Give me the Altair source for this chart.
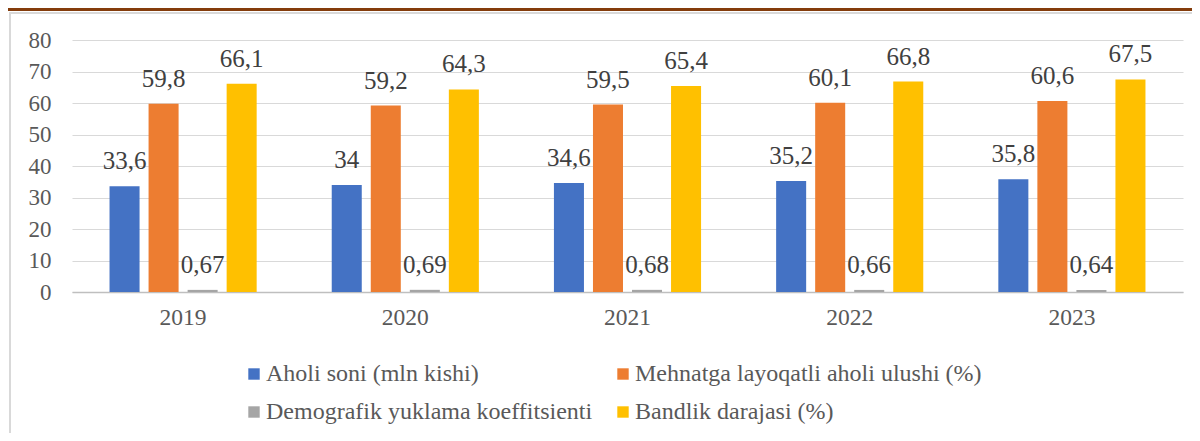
import altair as alt
import pandas as pd

years = ["2019", "2020", "2021", "2022", "2023"]
series = [
    "Aholi soni (mln kishi)",
    "Mehnatga layoqatli aholi ulushi (%)",
    "Demografik yuklama koeffitsienti",
    "Bandlik darajasi (%)",
]
aholi = [33.6, 34, 34.6, 35.2, 35.8]
mehnat = [59.8, 59.2, 59.5, 60.1, 60.6]
demog = [0.67, 0.69, 0.68, 0.66, 0.64]
bandlik = [66.1, 64.3, 65.4, 66.8, 67.5]
colors = ["#4472C4", "#ED7D31", "#A5A5A5", "#FFC000"]

# legend fills column by column: order so that rows read like the reference
legend_order = [series[0], series[2], series[1], series[3]]
legend_colors = [colors[0], colors[2], colors[1], colors[3]]

rows = []
for s, vals in zip(series, [aholi, mehnat, demog, bandlik]):
    for y, v in zip(years, vals):
        rows.append({"year": y, "series": s, "value": v,
                     "label": str(v).replace(".", ",")})
df = pd.DataFrame(rows)

FONT = "Liberation Serif, Times New Roman, serif"

x = alt.X("year:N", sort=years, title=None,
          scale=alt.Scale(paddingInner=0, paddingOuter=0),
          axis=alt.Axis(labelAngle=0, labelFontSize=23.5, labelColor="#595959",
                        labelFont=FONT, ticks=False, labelPadding=13,
                        domainColor="#BFBFBF", domainWidth=1.5, grid=False))
xo = alt.XOffset("series:N", sort=series,
                 scale=alt.Scale(paddingInner=0.2308, paddingOuter=0.9615))
y = alt.Y("value:Q", title=None,
          scale=alt.Scale(domain=[0, 80], nice=False),
          axis=alt.Axis(values=[0, 10, 20, 30, 40, 50, 60, 70, 80],
                        labelFontSize=23, labelColor="#595959", labelFont=FONT,
                        ticks=False, domain=False, labelPadding=21,
                        gridColor="#D9D9D9", gridWidth=1))

bars = alt.Chart(df).mark_bar().encode(
    x=x, xOffset=xo, y=y,
    color=alt.Color("series:N",
                    scale=alt.Scale(domain=legend_order, range=legend_colors),
                    legend=alt.Legend(title=None, orient="none", legendX=170,
                                      legendY=322, columns=2, columnPadding=18,
                                      rowPadding=14, symbolType="square",
                                      symbolSize=130, symbolStrokeWidth=0,
                                      labelFontSize=24, labelFont=FONT,
                                      labelColor="#595959", labelOffset=0,
                                      labelLimit=500)),
)

labels = alt.Chart(df).mark_text(
    baseline="alphabetic", dy=-17, fontSize=25, font=FONT, color="#404040"
).encode(x=x, xOffset=xo, y=y, text="label:N")

deco = pd.DataFrame({"d": [0]})
border = alt.Chart(deco).mark_rect(fill="white", fillOpacity=0, stroke="#D9D9D9",
                                   strokeWidth=2).encode(
    x=alt.value(-62), x2=alt.value(1200), y=alt.value(-27), y2=alt.value(500))
brown = alt.Chart(deco).mark_rect(color="#843C0C").encode(
    x=alt.value(-64), x2=alt.value(1130), y=alt.value(-32), y2=alt.value(-29))

chart = alt.layer(border, bars, labels, brown).properties(
    width=1111, height=252,
    autosize=alt.AutoSizeParams(type="none"),
    padding={"left": 64, "top": 32, "right": 9, "bottom": 141},
).configure(font=FONT).configure_text(font=FONT).configure_legend(
    labelFont=FONT).configure_view(stroke=None)

chart.save("out.html", embed_options={"renderer": "svg", "actions": False})
